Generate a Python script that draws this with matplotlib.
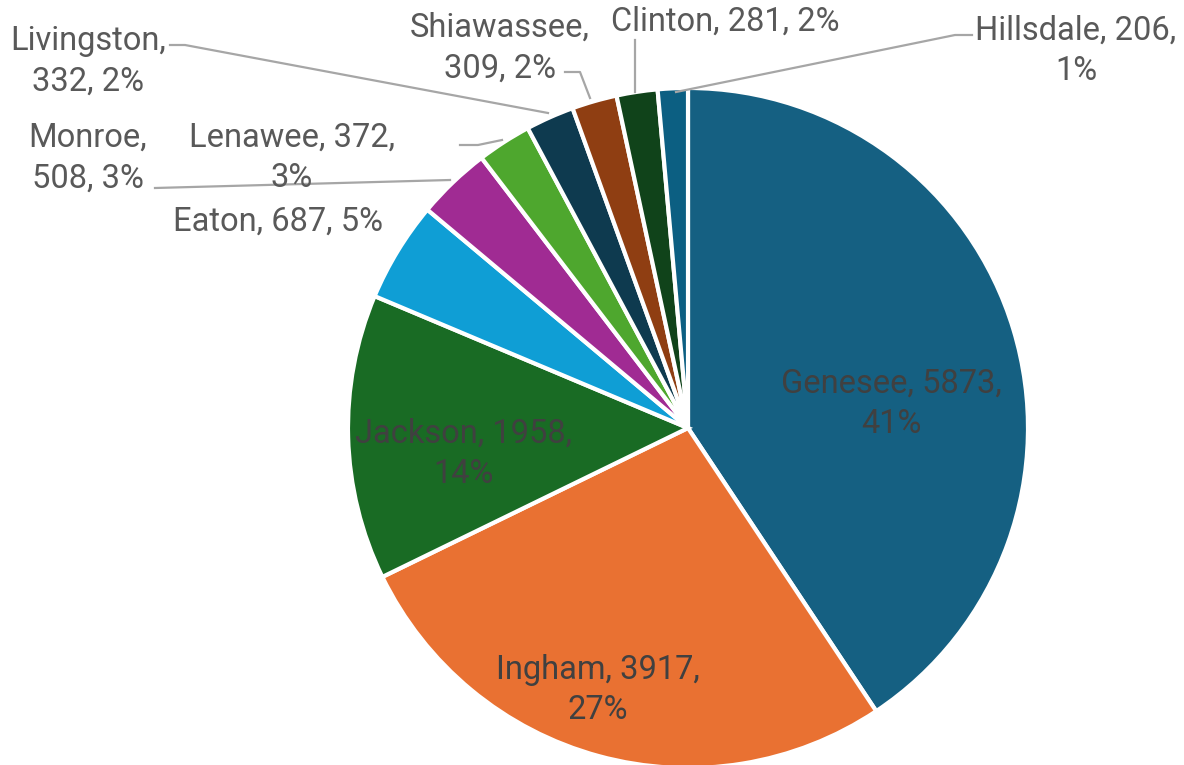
import matplotlib.pyplot as plt

# county counts, clockwise from the top
counties = ["Genesee", "Ingham", "Jackson", "Eaton", "Monroe", "Lenawee",
            "Livingston", "Shiawassee", "Clinton", "Hillsdale"]
counts = [5873, 3917, 1958, 687, 508, 372, 332, 309, 281, 206]
# percentages as shown on the chart (rounded so they add up to 100)
percents = [41, 27, 14, 5, 3, 3, 2, 2, 2, 1]
colors = ["#156082", "#E97132", "#196B24", "#0F9ED5", "#A02B93", "#4EA72E",
          "#0E3A4F", "#8F3E12", "#10431A", "#0C5F82"]
# where the label wraps: 'value' = before the percent, 'name' = after the name, '' = one line
wraps = ["value", "value", "value", "", "name", "value", "name", "name", "", "value"]

plt.rcParams['font.family'] = ['Roboto', 'DejaVu Sans']

fig = plt.figure(figsize=(11.84, 7.65), dpi=100)
ax = fig.add_axes([0, 0, 1, 1])

# y axis runs downward, so counterclock=True draws clockwise on screen
ax.pie(counts, colors=colors, center=(688, 428), radius=340,
       startangle=-90, counterclock=True, frame=True,
       wedgeprops=dict(edgecolor='white', linewidth=3))
ax.set_xlim(0, 1184)
ax.set_ylim(765, 0)
ax.set_aspect('equal')
ax.axis('off')

pos = {
    "Genesee": (891, 404), "Ingham": (598, 690), "Jackson": (464, 454),
    "Eaton": (278, 222), "Monroe": (88, 158), "Lenawee": (292, 158),
    "Livingston": (88, 61), "Shiawassee": (500, 48), "Clinton": (725, 22),
    "Hillsdale": (1076, 51),
}
inside = ["Genesee", "Ingham", "Jackson"]

for c, n, p, w in zip(counties, counts, percents, wraps):
    if w == "value":
        s = "%s, %d,\n%d%%" % (c, n, p)
    elif w == "name":
        s = "%s,\n%d, %d%%" % (c, n, p)
    else:
        s = "%s, %d, %d%%" % (c, n, p)
    x, y = pos[c]
    col = '#404040' if c in inside else '#595959'
    ax.text(x, y, s, ha='center', va='center', fontsize=23.5,
            color=col, linespacing=1.35)

# leader lines
leaders = [
    [(170, 45), (185, 45), (548, 113)],
    [(565, 72), (580, 72), (590, 98)],
    [(635, 40), (635, 92)],
    [(972, 35), (955, 35), (676, 92)],
    [(460, 145), (478, 145), (502, 140)],
    [(155, 188), (450, 180)],
]
for seg in leaders:
    xs = [p[0] for p in seg]
    ys = [p[1] for p in seg]
    ax.plot(xs, ys, color='#A6A6A6', linewidth=1.6)

fig.savefig("out.png", dpi=100)
